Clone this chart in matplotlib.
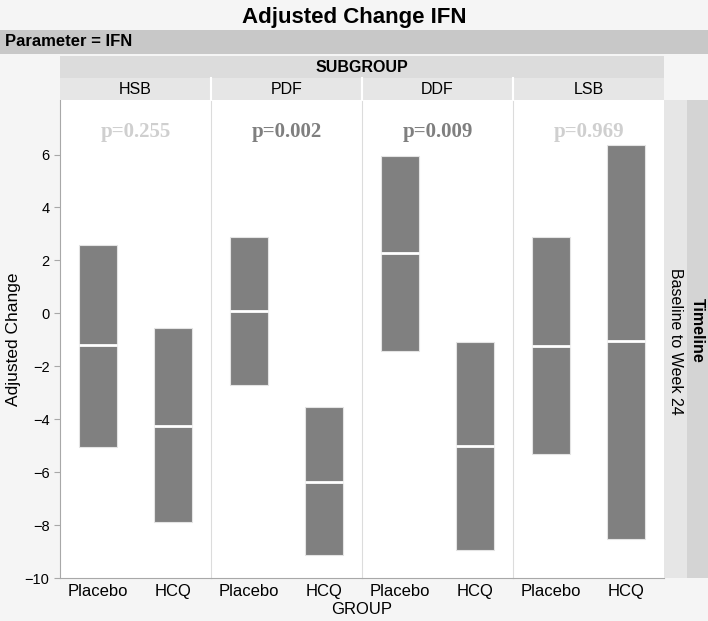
import numpy as np
import matplotlib.pyplot as plt
from matplotlib.patches import Rectangle

plt.rcParams['font.family'] = ['Liberation Sans', 'DejaVu Sans']

subgroups = ['HSB', 'PDF', 'DDF', 'LSB']
groups = ['Placebo', 'HCQ']
p_values = ['p=0.255', 'p=0.002', 'p=0.009', 'p=0.969']
p_signif = [False, True, True, False]

# upper, median, lower for Placebo / HCQ in each subgroup
upper = [[2.6, -0.55], [2.88, -3.55], [5.93, -1.07], [2.88, 6.36]]
median = [[-1.2, -4.24], [0.07, -6.37], [2.29, -5.0], [-1.24, -1.05]]
lower = [[-5.04, -7.9], [-2.69, -9.14], [-1.43, -8.95], [-5.3, -8.52]]

W, H = 708, 621
bg = '#f5f5f5'
fig = plt.figure(figsize=(W / 100, H / 100), dpi=100, facecolor=bg)


def fx(px):
    return px / W


def fy(py):
    return 1 - py / H


def band(x0, y0, x1, y1, color):
    fig.patches.append(Rectangle((fx(x0), fy(y1)), fx(x1) - fx(x0), fy(y0) - fy(y1),
                                 transform=fig.transFigure, facecolor=color,
                                 edgecolor='none', zorder=0))


# header bands
fig.text(fx(354), fy(17), 'Adjusted Change IFN', ha='center', va='center',
         fontsize=16, fontweight='bold')
band(0, 30, W, 54, '#c8c8c8')
fig.text(fx(5), fy(42), 'Parameter = IFN', ha='left', va='center',
         fontsize=12, fontweight='bold')
band(60, 56, 664, 78, '#dcdcdc')
fig.text(fx(362), fy(67), 'SUBGROUP', ha='center', va='center',
         fontsize=11.5, fontweight='bold')

# right strips
band(664, 100, 687, 578, '#e6e6e6')
band(687, 100, W, 578, '#d4d4d4')
fig.text(fx(675.5), fy(341), 'Baseline to Week 24', ha='center', va='center',
         rotation=-90, fontsize=11.5)
fig.text(fx(697.5), fy(330), 'Timeline', ha='center', va='center',
         rotation=-90, fontsize=11.5, fontweight='bold')

panel_w = 151
x_left = 60
top, bottom = 100, 578
ymin, ymax = -10, 8.06

for i, sg in enumerate(subgroups):
    x0 = x_left + i * panel_w
    band(x0, 78, x0 + panel_w, 100, '#e6e6e6')
    if i > 0:
        fig.lines.append(plt.Line2D([fx(x0), fx(x0)], [fy(78), fy(100)],
                                    transform=fig.transFigure, color='white', lw=1.5))
    fig.text(fx(x0 + panel_w / 2), fy(89), sg, ha='center', va='center', fontsize=11.5)

    ax = fig.add_axes([fx(x0), fy(bottom), fx(panel_w), fy(top) - fy(bottom)])
    ax.set_facecolor('white')
    xs = np.arange(len(groups))
    lo = np.array(lower[i])
    hi = np.array(upper[i])
    ax.bar(xs, hi - lo, bottom=lo, width=0.5, color='#808080',
           edgecolor='#e4e4e4', linewidth=0.8)
    ax.hlines(median[i], xs - 0.25, xs + 0.25, color='white', lw=2)
    ax.set_xlim(-0.5, 1.5)
    ax.set_ylim(ymin, ymax)
    ax.set_xticks(xs)
    ax.set_xticklabels(groups, fontsize=12)
    ax.tick_params(axis='x', length=0, pad=4)
    ax.text(0.5, 6.85, p_values[i], ha='center', va='center',
            family='Liberation Serif', fontweight='bold', fontsize=15,
            color='#7f7f7f' if p_signif[i] else '#cfcfcf')
    ax.spines['top'].set_visible(False)
    ax.spines['right'].set_visible(False)
    ax.spines['bottom'].set_color('#a8a8a8')
    if i == 0:
        ax.spines['left'].set_color('#a8a8a8')
        ax.set_yticks(np.arange(-10, 7, 2))
        ax.tick_params(axis='y', length=4, color='#a8a8a8', labelsize=10.5)
    else:
        ax.spines['left'].set_color('#dcdcdc')
        ax.tick_params(axis='y', left=False, labelleft=False)

fig.text(fx(14), fy(339), 'Adjusted Change', ha='center', va='center',
         rotation=90, fontsize=12.5)
fig.text(fx(362), fy(609), 'GROUP', ha='center', va='center', fontsize=12)

fig.savefig('out.png', dpi=100, facecolor=bg)
